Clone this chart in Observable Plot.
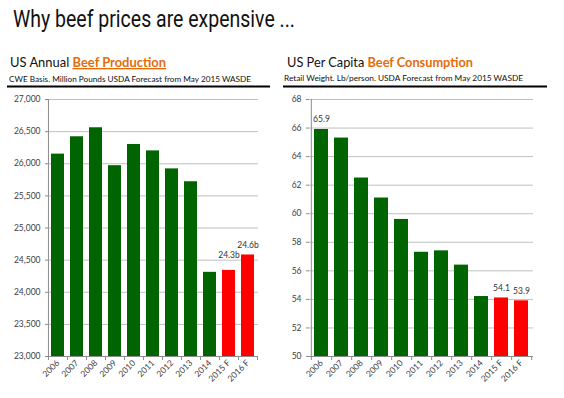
<!DOCTYPE html>
<html><head><meta charset="utf-8">
<script src="https://cdn.jsdelivr.net/npm/d3@7"></script>
<script src="https://cdn.jsdelivr.net/npm/@observablehq/plot@0.6"></script>
<style>
body{margin:0;background:#fff;}
#wrap{position:relative;width:564px;height:398px;overflow:hidden;background:#fff;}
#head{position:absolute;left:0;top:0;}
#left{position:absolute;left:0;top:90px;}
#right{position:absolute;left:270px;top:90px;}
</style></head><body>
<div id="wrap">
<svg id="head" width="564" height="90" font-family="Lato, 'Open Sans', sans-serif">
  <text x="13" y="27" font-size="23" fill="#111" font-family="'Liberation Sans Narrow', Roboto, sans-serif" textLength="282" lengthAdjust="spacingAndGlyphs">Why beef prices are expensive ...</text>
  <text x="10" y="67" font-size="13.5" fill="#111" textLength="156" lengthAdjust="spacingAndGlyphs">US Annual <tspan fill="#E46C0A" font-weight="bold" text-decoration="underline">Beef Production</tspan></text>
  <text x="9" y="81.5" font-size="7.6" fill="#111" textLength="242" lengthAdjust="spacingAndGlyphs">CWE Basis.  Million Pounds USDA Forecast from May 2015 WASDE</text>
  <line x1="7" x2="270" y1="86.5" y2="86.5" stroke="#000" stroke-width="2"/>
  <text x="287" y="67" font-size="13.5" fill="#111" textLength="186" lengthAdjust="spacingAndGlyphs">US Per Capita <tspan fill="#E46C0A" font-weight="bold">Beef Consumption</tspan></text>
  <text x="284" y="81" font-size="7.6" fill="#111" textLength="239" lengthAdjust="spacingAndGlyphs">Retail Weight.  Lb/person.  USDA Forecast from May 2015 WASDE</text>
  <line x1="283" x2="547" y1="86.5" y2="86.5" stroke="#000" stroke-width="2"/>
</svg>
<div id="left"></div>
<div id="right"></div>
</div>
<script>
const years = ["2006","2007","2008","2009","2010","2011","2012","2013","2014","2015 F","2016 F"];
const forecast = [false,false,false,false,false,false,false,false,false,true,true];
const production = [26150,26420,26560,25970,26300,26200,25920,25720,24310,24340,24580];
const consumption = [65.9,65.3,62.5,61.1,59.6,57.3,57.4,56.4,54.2,54.1,53.9];
const prodTicks = [23000,23500,24000,24500,25000,25500,26000,26500,27000];
const consTicks = [50,52,54,56,58,60,62,64,66,68];
const prodLabels = [{year:"2015 F", text:"24.3b", dy:-12}, {year:"2016 F", text:"24.6b", dy:-7}];
const consLabels = [{year:"2006", text:"65.9", dy:-7}, {year:"2015 F", text:"54.1", dy:-7}, {year:"2016 F", text:"53.9", dy:-7}];

const GREEN = "#006400", RED = "#ff0000", AXIS = "#8c8c8c", GRID = "#c0c0c0";

function chart({values, ticks, fmt, labels, width, ml, mr}) {
  const H = 308, mt = 9, mb = 42;
  const rows = years.map((y, i) => ({year: y, v: values[i], fill: forecast[i] ? RED : GREEN}));
  const step = (width - ml - mr) / years.length;
  const y0 = ticks[0], yTop = ticks[ticks.length - 1];
  const marks = [
    Plot.ruleY(ticks, {stroke: GRID}),
    Plot.barY(rows, {x: "year", y1: y0, y2: "v", fill: "fill"}),
    Plot.ruleY([y0], {stroke: AXIS}),
    Plot.ruleX([years[0]], {dx: -step / 2, y1: y0, y2: yTop, insetTop: 4, stroke: AXIS}),
    Plot.ruleX(years, {dx: step / 2, y1: y0, y2: y0, insetBottom: -4, stroke: AXIS}),
    Plot.axisY({ticks, tickFormat: fmt, tickSize: 3, tickPadding: 5, stroke: AXIS, fill: "#404040", label: null}),
    Plot.axisX({tickSize: 0, tickRotate: -45, tickPadding: 5, fill: "#404040", label: null})
  ];
  labels.forEach(l => {
    marks.push(Plot.text([l], {x: "year", y: () => values[years.indexOf(l.year)], text: "text", dy: l.dy, fontSize: 8.5, fill: "#333", lineAnchor: "bottom"}));
  });
  return Plot.plot({
    width, height: H, marginTop: mt, marginBottom: mb, marginLeft: ml, marginRight: mr,
    style: {fontFamily: "Lato, 'Open Sans', sans-serif", fontSize: "8.5px", background: "transparent", overflow: "visible"},
    x: {domain: years, paddingInner: 0.31, paddingOuter: 0.155, label: null},
    y: {domain: [y0, yTop], label: null},
    color: {type: "identity"},
    marks
  });
}

document.getElementById("left").append(chart({values: production, ticks: prodTicks, fmt: d3.format(","), labels: prodLabels, width: 270, ml: 48, mr: 12}));
document.getElementById("right").append(chart({values: consumption, ticks: consTicks, fmt: d => String(d), labels: consLabels, width: 294, ml: 39, mr: 31}));
</script>
</body></html>
